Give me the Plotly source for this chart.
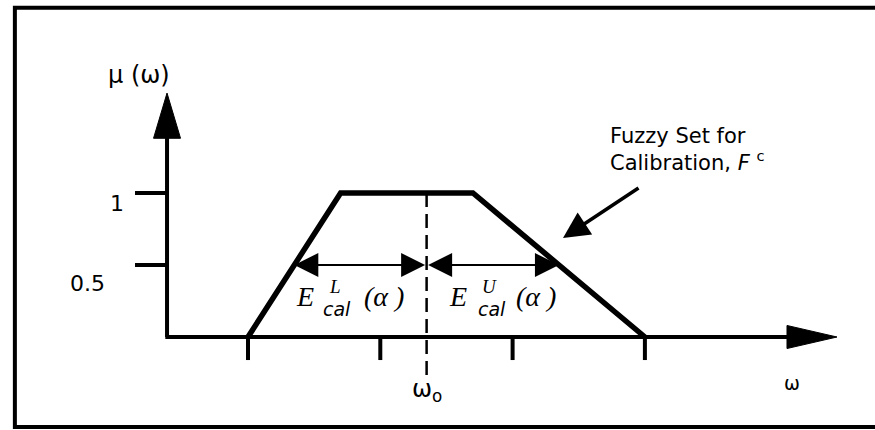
import plotly.graph_objects as go

# Trapezoidal membership function of the calibration fuzzy set
omega = [1.0, 1.7, 2.7, 4.0]
mu = [0.0, 1.0, 1.0, 0.0]

omega_0 = 2.35          # nominal value
alpha = 0.5             # alpha-cut level

x_ticks = [1, 2, 3, 4]
y_tick_vals = [0.5, 1.0]
y_tick_text = ["0.5", "1"]

# axis geometry (data units)
AX_X0 = 0.388           # omega where the vertical axis stands
AX_X_END = 5.452        # tip of the omega axis arrow
AX_Y_END = 1.694        # tip of the mu axis arrow

BLACK = "#000000"
SANS = "DejaVu Sans, Arial, sans-serif"
SERIF = "Liberation Serif, Times New Roman, serif"


def alpha_cut(level):
    """Left and right crossing points of the trapezoid at a given level."""
    a, b, c, d = omega
    return a + level * (b - a), d - level * (d - c)


left_cut, right_cut = alpha_cut(alpha)

fig = go.Figure()

# membership function
fig.add_trace(go.Scatter(
    x=omega, y=mu, mode="lines",
    line=dict(color=BLACK, width=5.5),
    hoverinfo="skip", showlegend=False,
))

# axis arrowheads
fig.add_trace(go.Scatter(
    x=[AX_X0 - 0.102, AX_X0 + 0.102, AX_X0, AX_X0 - 0.102],
    y=[1.38, 1.38, AX_Y_END, 1.38],
    mode="lines", fill="toself", fillcolor=BLACK,
    line=dict(color=BLACK, width=1), hoverinfo="skip", showlegend=False,
))
fig.add_trace(go.Scatter(
    x=[5.074, 5.074, AX_X_END, 5.074],
    y=[-0.08, 0.08, 0.0, -0.08],
    mode="lines", fill="toself", fillcolor=BLACK,
    line=dict(color=BLACK, width=1), hoverinfo="skip", showlegend=False,
))

shapes = []
# axes
shapes.append(dict(type="line", xref="x", yref="y", x0=AX_X0, y0=0, x1=AX_X0, y1=1.40,
                   line=dict(color=BLACK, width=4)))
shapes.append(dict(type="line", xref="x", yref="y", x0=AX_X0 - 0.013, y0=0, x1=5.10, y1=0,
                   line=dict(color=BLACK, width=4)))
# y ticks
for v in y_tick_vals:
    shapes.append(dict(type="line", xref="x", yref="y", x0=0.146, y0=v, x1=AX_X0, y1=v,
                       line=dict(color=BLACK, width=4)))
# x ticks
for v in x_ticks:
    shapes.append(dict(type="line", xref="x", yref="y", x0=v, y0=0, x1=v, y1=-0.16,
                       line=dict(color=BLACK, width=4)))
# nominal value marker
shapes.append(dict(type="line", xref="x", yref="y", x0=omega_0, y0=1.0, x1=omega_0, y1=-0.285,
                   line=dict(color=BLACK, width=2.5, dash="14px,7px")))
# frame
shapes.append(dict(type="rect", xref="paper", yref="paper",
                   x0=0.017, y0=0.007, x1=1.05, y1=0.982,
                   line=dict(color=BLACK, width=4)))

annotations = []
# alpha-cut extents
for cut in (left_cut, right_cut):
    annotations.append(dict(
        x=cut, y=alpha, ax=omega_0, ay=alpha, xref="x", yref="y", axref="x", ayref="y",
        text="", showarrow=True, arrowside="end+start",
        arrowhead=2, startarrowhead=2, arrowsize=2.4, startarrowsize=2.4,
        arrowwidth=2, arrowcolor=BLACK,
    ))

# pointer to the fuzzy set
annotations.append(dict(
    x=3.381, y=0.6875, ax=3.963, ay=1.042, xref="x", yref="y", axref="x", ayref="y",
    text="", showarrow=True, arrowhead=2, arrowsize=1.5, arrowwidth=3.5, arrowcolor=BLACK,
))


def label(text, x, y, size, family=SANS, xanchor="center", yanchor="middle", **kw):
    annotations.append(dict(
        x=x, y=y, xref="x", yref="y", text=text, showarrow=False,
        xanchor=xanchor, yanchor=yanchor,
        font=dict(family=family, size=size, color=BLACK), **kw,
    ))


# y tick labels
label(y_tick_text[0], 0.146, y_tick_vals[0], 22, xanchor="right", xshift=-28, yshift=-18)
label(y_tick_text[1], 0.146, y_tick_vals[1], 22, xanchor="right", xshift=-9, yshift=-10)

# axis titles
label("\u03bc (\u03c9)", 0.176, 1.82, 24)
label("\u03c9", 5.112, -0.319, 19)
label("\u03c9<sub>o</sub>", omega_0, -0.37, 24)

# E^L_cal(alpha)
label("<i>E</i>", 1.431, 0.278, 28, family=SERIF)
label("<i>L</i>", 1.658, 0.350, 19, family=SERIF)
label("<i>cal</i>", 1.673, 0.195, 19)
label("<i>(\u03b1 )</i>", 2.030, 0.278, 28, family=SERIF)

# E^U_cal(alpha)
label("<i>E</i>", 2.587, 0.278, 28, family=SERIF)
label("<i>U</i>", 2.829, 0.350, 19, family=SERIF)
label("<i>cal</i>", 2.844, 0.195, 19)
label("<i>(\u03b1 )</i>", 3.178, 0.278, 28, family=SERIF)

# fuzzy set caption
label("Fuzzy Set for<br>Calibration, <i>F</i> <sup>c</sup>", 3.720, 1.30, 21,
      xanchor="left", align="left")

fig.update_layout(
    width=875, height=430, autosize=False,
    margin=dict(l=0, r=0, t=0, b=0),
    paper_bgcolor="white", plot_bgcolor="white",
    xaxis=dict(range=[-0.8745, 5.7392], visible=False, fixedrange=True),
    yaxis=dict(range=[-0.6458, 2.3403], visible=False, fixedrange=True),
    shapes=shapes, annotations=annotations, showlegend=False,
)

fig.write_html("out.html")
